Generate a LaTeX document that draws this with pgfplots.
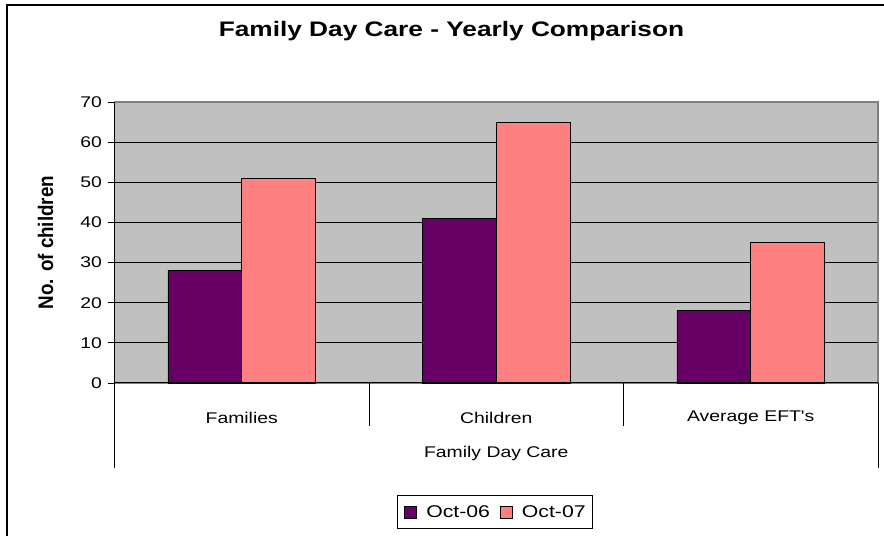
\documentclass[border=0pt]{standalone}
\usepackage{fontspec}
\setmainfont{Liberation Sans}
\usepackage{graphicx}
\usepackage{pgfplots}
\pgfplotsset{compat=1.18}

\definecolor{plotgray}{HTML}{C0C0C0}
\definecolor{framegray}{HTML}{808080}
\definecolor{octsix}{HTML}{660066}
\definecolor{octseven}{HTML}{FF8080}

\newcommand\bodyfont{\fontsize{15.5}{18}\selectfont}
\newcommand\legendfont{\fontsize{17}{20}\selectfont}
\newcommand\wide[1]{\scalebox{1.25}[1]{#1}}

\begin{document}
\begin{tikzpicture}
\useasboundingbox (0pt,0pt) rectangle (884pt,536pt);
% chart frame
\draw[line width=1.3pt] (7pt,0pt) -- (7pt,531pt) -- (884pt,531pt);

\begin{axis}[
  at={(114.5pt,153pt)}, anchor=south west,
  scale only axis, width=763.5pt, height=281pt,
  xmin=-0.5, xmax=2.5, ymin=0, ymax=70,
  ybar=0pt, bar width=0.29,
  axis background/.style={fill=plotgray},
  axis line style={draw=framegray, line width=1.2pt},
  xtick={0,1,2},
  xticklabels={\wide{Families},\wide{Children},\wide{Average EFT\textquotesingle s}},
  xtick style={draw=none},
  xticklabel style={font=\bodyfont, anchor=center, yshift=-29pt},
  ytick={0,10,...,60},
  extra y ticks={70},
  extra y tick style={grid=none},
  ytick pos=left,
  ymajorgrids,
  grid style={black, line width=0.8pt},
  ytick style={black, line width=0.8pt},
  tick align=outside, major tick length=6pt,
  /pgf/number format/assume math mode=true,
  yticklabel={\wide{\pgfmathprintnumber{\tick}}},
  yticklabel style={font=\bodyfont, xshift=-3pt},
  xlabel={\wide{Family Day Care}},
  xlabel style={font=\bodyfont, at={(rel axis cs:0.5,-0.2491)}, anchor=center},
  ylabel={\scalebox{1}[1.12]{\bfseries No. of children}},
  ylabel style={font=\fontsize{18.8}{22}\selectfont, at={(rel axis cs:-0.0904,0.5)}, anchor=center},
  title={\wide{\bfseries Family Day Care - Yearly Comparison}},
  title style={font=\fontsize{21}{25}\selectfont, at={(rel axis cs:0.4414,1.2117)}, anchor=base},
  legend columns=2,
  legend style={at={(rel axis cs:0.4984,-0.459)}, anchor=center, draw=black, line width=0.8pt,
    inner xsep=7pt, inner ysep=10pt,
    nodes={inner sep=0pt, font=\legendfont},
    /tikz/every odd column/.append style={column sep=9pt},
    /tikz/every even column/.append style={column sep=10pt}},
  legend image code/.code={\draw[#1, draw=black, line width=0.9pt] (0pt,-6pt) rectangle (12pt,6pt);},
]
\addplot[draw=black, line width=0.8pt, fill=octsix] coordinates {(0,28) (1,41) (2,18)};
\addplot[draw=black, line width=0.8pt, fill=octseven] coordinates {(0,51) (1,65) (2,35)};
\legend{\wide{Oct-06},\wide{Oct-07}}
\end{axis}

% value axis and category divisions
\draw[black, line width=1pt] (114.5pt,434pt) -- (114.5pt,68pt);
\draw[black, line width=1pt] (114.5pt,153pt) -- (878pt,153pt);
\draw[black, line width=1pt] (878pt,153pt) -- (878pt,68pt);
\draw[black, line width=1pt] (369pt,153pt) -- (369pt,110pt);
\draw[black, line width=1pt] (623.5pt,153pt) -- (623.5pt,110pt);
\end{tikzpicture}
\end{document}
